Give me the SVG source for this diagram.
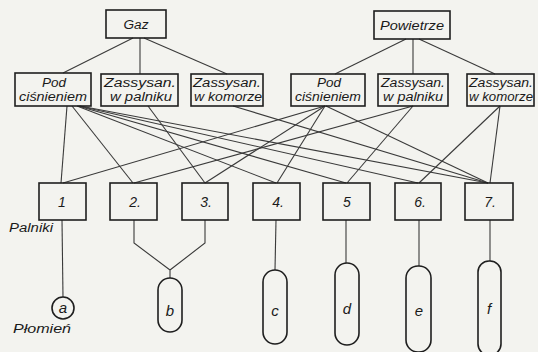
<svg xmlns="http://www.w3.org/2000/svg" width="538" height="352" viewBox="0 0 538 352">
<style>
.bx{fill:none;stroke:#1e1e1e;stroke-width:1.6}
.ln{fill:none;stroke:#3a3a3a;stroke-width:1.1}
.t{font-family:"Liberation Sans",Arial,sans-serif;font-style:italic;fill:#1a1a1a;text-anchor:middle}
.s{font-size:12.5px}
.n{font-size:14px}
.f{font-size:15px}
.l{font-size:12px;text-anchor:start}
</style>
<rect width="538" height="352" fill="#f3f3ef"/>
<g id="connectors">
<path class="ln" d="M133 38 L63 73"/>
<path class="ln" d="M140 38 L140 74"/>
<path class="ln" d="M144 38 L227 74"/>
<path class="ln" d="M406 39 L335 74"/>
<path class="ln" d="M413 39 L413 74"/>
<path class="ln" d="M419 39 L495 74"/>
<path class="ln" d="M67 106 L61 183"/>
<path class="ln" d="M72 106 L133 183"/>
<path class="ln" d="M77 106 L276 183"/>
<path class="ln" d="M78 106 L346 183"/>
<path class="ln" d="M79 106 L418 183"/>
<path class="ln" d="M80 106 L488 183"/>
<path class="ln" d="M148 106 L205 183"/>
<path class="ln" d="M233 106 L488 183"/>
<path class="ln" d="M325 106 L63 183"/>
<path class="ln" d="M325 106 L205 183"/>
<path class="ln" d="M325 106 L277 183"/>
<path class="ln" d="M326 106 L488 183"/>
<path class="ln" d="M413 106 L134 183"/>
<path class="ln" d="M413 106 L347 183"/>
<path class="ln" d="M500 106 L419 183"/>
<path class="ln" d="M500 106 L490 183"/>
<path class="ln" d="M62 220 L63 297"/>
<path class="ln" d="M134 220 L134 243 L170 270 L205 243 L205 220 M170 270 L170 278"/>
<path class="ln" d="M276 220 L275 270"/>
<path class="ln" d="M346 220 L346 263"/>
<path class="ln" d="M419 220 L419 266"/>
<path class="ln" d="M490 220 L490 261"/>
</g>
<g id="gaz"><rect class="bx" x="106" y="10" width="60" height="28"/><text class="t s" x="136" y="29" textLength="25" lengthAdjust="spacingAndGlyphs">Gaz</text></g>
<g id="powietrze"><rect class="bx" x="374" y="11" width="76" height="28"/><text class="t s" x="412" y="30" textLength="64" lengthAdjust="spacingAndGlyphs">Powietrze</text></g>
<g id="gaz-pod"><rect class="bx" x="15" y="73" width="76" height="33"/><text class="t s" x="54" y="87" textLength="24" lengthAdjust="spacingAndGlyphs">Pod</text><text class="t s" x="53" y="101" textLength="68" lengthAdjust="spacingAndGlyphs">ciśnieniem</text></g>
<g id="gaz-palnik"><rect class="bx" x="101" y="74" width="77" height="32"/><text class="t s" x="140" y="87" textLength="72" lengthAdjust="spacingAndGlyphs">Zassysan.</text><text class="t s" x="141" y="101" textLength="62" lengthAdjust="spacingAndGlyphs">w palniku</text></g>
<g id="gaz-komora"><rect class="bx" x="191" y="74" width="72" height="32"/><text class="t s" x="227" y="87" textLength="68" lengthAdjust="spacingAndGlyphs">Zassysan.</text><text class="t s" x="228" y="101" textLength="68" lengthAdjust="spacingAndGlyphs">w komorze</text></g>
<g id="pow-pod"><rect class="bx" x="291" y="74" width="74" height="32"/><text class="t s" x="329" y="87" textLength="24" lengthAdjust="spacingAndGlyphs">Pod</text><text class="t s" x="328" y="101" textLength="66" lengthAdjust="spacingAndGlyphs">ciśnieniem</text></g>
<g id="pow-palnik"><rect class="bx" x="378" y="74" width="70" height="32"/><text class="t s" x="413" y="87" textLength="64" lengthAdjust="spacingAndGlyphs">Zassysan.</text><text class="t s" x="413" y="101" textLength="60" lengthAdjust="spacingAndGlyphs">w palniku</text></g>
<g id="pow-komora"><rect class="bx" x="467" y="74" width="67" height="32"/><text class="t s" x="501" y="87" textLength="64" lengthAdjust="spacingAndGlyphs">Zassysan.</text><text class="t s" x="501" y="101" textLength="64" lengthAdjust="spacingAndGlyphs">w komorze</text></g>
<g id="p1"><rect class="bx" x="39" y="183" width="47" height="37"/><text class="t n" x="62" y="207">1</text></g>
<g id="p2"><rect class="bx" x="110" y="183" width="47" height="37"/><text class="t n" x="135" y="207">2.</text></g>
<g id="p3"><rect class="bx" x="182" y="183" width="46" height="37"/><text class="t n" x="206" y="207">3.</text></g>
<g id="p4"><rect class="bx" x="253" y="183" width="47" height="37"/><text class="t n" x="278" y="207">4.</text></g>
<g id="p5"><rect class="bx" x="323" y="183" width="47" height="37"/><text class="t n" x="347" y="207">5</text></g>
<g id="p6"><rect class="bx" x="395" y="183" width="46" height="37"/><text class="t n" x="420" y="207">6.</text></g>
<g id="p7"><rect class="bx" x="465" y="183" width="48" height="37"/><text class="t n" x="490" y="207">7.</text></g>
<g id="fa"><circle class="bx" cx="63" cy="308" r="11"/><text class="t f" x="63" y="313">a</text></g>
<g id="fb"><rect class="bx" x="158" y="278" width="24" height="54" rx="12"/><text class="t f" x="170" y="316">b</text></g>
<g id="fc"><rect class="bx" x="263" y="270" width="24" height="74" rx="12"/><text class="t f" x="275" y="316">c</text></g>
<g id="fd"><rect class="bx" x="335" y="263" width="24" height="82" rx="12"/><text class="t f" x="347" y="314">d</text></g>
<g id="fe"><rect class="bx" x="406" y="266" width="25" height="86" rx="12"/><text class="t f" x="419" y="316">e</text></g>
<g id="ff"><rect class="bx" x="478" y="261" width="23" height="94" rx="11"/><text class="t f" x="489" y="314">f</text></g>
<text class="t l" x="9" y="232" textLength="44" lengthAdjust="spacingAndGlyphs">Palniki</text>
<text class="t l" x="13" y="333" textLength="58" lengthAdjust="spacingAndGlyphs">Płomień</text>
</svg>
